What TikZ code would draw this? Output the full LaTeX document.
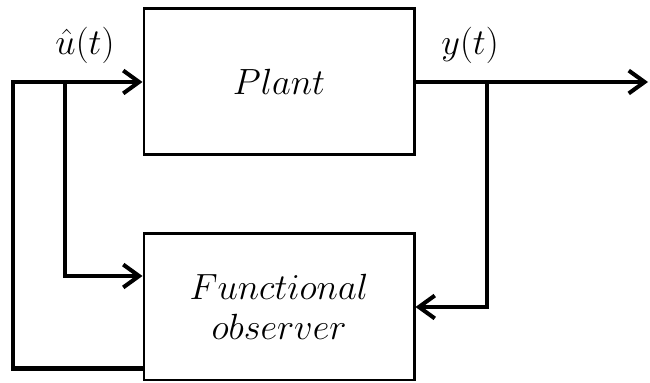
\documentclass[tikz,border=0pt]{standalone}
\usepackage{amsmath}
\usetikzlibrary{positioning, arrows.meta, calc}
\tikzset{>={Straight Barb[length=9pt,width=13pt]}}
\tikzset{
    block/.style={draw, line width=1.7pt, minimum width=5.4cm, minimum height=2.92cm, align=center, font=\fontsize{21}{23}\selectfont},
    wire/.style={line width=2.3pt},
    sig/.style={font=\fontsize{22}{24}\selectfont}
}

\begin{document}
\begin{tikzpicture}
    \useasboundingbox (0,0) rectangle (13,7.66);
    \node[block] (plant) at (5.58,6.02) {$Plant$};
    \node[block] (obs) at (5.58,1.52) {$Functional$\\$observer$};
    % branch points and free ends
    \coordinate (lp) at (0.26,6.02);
    \coordinate (ubr) at (1.3,6.02);
    \coordinate (ybr) at (9.74,6.02);
    \coordinate (yout) at (12.96,6.02);
    \node[sig] (ulabel) at (1.7,6.76) {$\hat{u}(t)$};
    \node[sig] (ylabel) at (9.4,6.76) {$y(t)$};
    \draw[wire,->] ([yshift=0.26cm]obs.south west) -| (lp) -- (plant.west);
    \draw[wire,->] (ubr) |- ([yshift=0.62cm]obs.west);
    \draw[wire,->] (plant.east) -- (yout);
    \draw[wire,->] (ybr) |- (obs.east);
\end{tikzpicture}
\end{document}
